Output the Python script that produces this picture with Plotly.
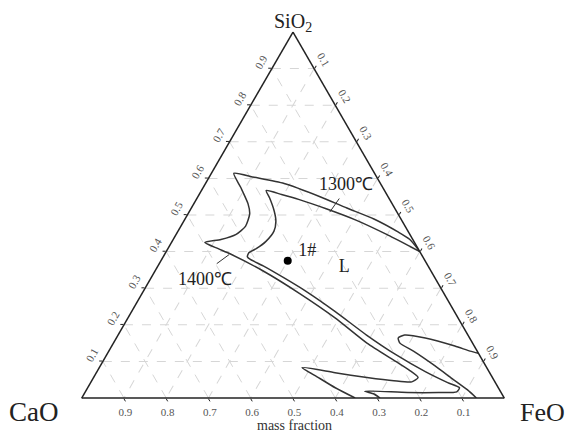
import plotly.graph_objects as go

# Ternary data: SiO2 (a, top), CaO (b, bottom-left), FeO (c, bottom-right); mass fractions, sum = 1
# CaO is completed by plotly from sum=1.

# 1400 °C liquidus isotherm
iso1400_sio2 = [0.400, 0.433, 0.453, 0.489, 0.519, 0.550, 0.586, 0.603, 0.614,
                0.575, 0.531, 0.503, 0.469, 0.447, 0.433, 0.425,
                0.408, 0.394, 0.347, 0.286, 0.219, 0.150, 0.100, 0.075, 0.056,
                0.044, 0.047, 0.056, 0.069, 0.083,
                0.058, 0.028, 0.000]
iso1400_feo = [0.600, 0.560, 0.523, 0.447, 0.368, 0.289, 0.186, 0.107, 0.053,
               0.089, 0.128, 0.146, 0.153, 0.142, 0.113, 0.079,
               0.119, 0.154, 0.256, 0.372, 0.490, 0.600, 0.693, 0.739, 0.768,
               0.759, 0.715, 0.647, 0.565, 0.480,
               0.528, 0.586, 0.647]

# 1300 °C liquidus isotherm, main branch
iso1300a_sio2 = [0.400, 0.414, 0.447, 0.486, 0.517, 0.542, 0.556, 0.567,
                 0.547, 0.511, 0.483, 0.456, 0.428, 0.408, 0.397, 0.386,
                 0.378, 0.361, 0.328, 0.292, 0.236, 0.172, 0.119, 0.072, 0.042, 0.028,
                 0.017, 0.015, 0.015, 0.019,
                 0.011, 0.000]
iso1300a_feo = [0.600, 0.570, 0.498, 0.406, 0.320, 0.244, 0.195, 0.153,
                0.171, 0.200, 0.218, 0.227, 0.222, 0.209, 0.197, 0.199,
                0.211, 0.249, 0.315, 0.384, 0.482, 0.588, 0.683, 0.777, 0.845, 0.880,
                0.879, 0.837, 0.763, 0.660,
                0.686, 0.706]

# 1300 °C liquidus isotherm, FeO-side branch
iso1300b_sio2 = [0.000, 0.022, 0.053, 0.089, 0.128, 0.150, 0.164, 0.172, 0.164, 0.142, 0.128, 0.122]
iso1300b_feo = [0.934, 0.902, 0.850, 0.790, 0.721, 0.678, 0.667, 0.678, 0.731, 0.812, 0.855, 0.878]

# Sample point 1#
sample_sio2 = [0.375]
sample_feo = [0.300]
sample_name = ["1#"]

# Labels
label_text = ["1300℃", "1400℃", "1#", "L"]
label_sio2 = [0.581, 0.322, 0.400, 0.356]
label_feo = [0.335, 0.131, 0.334, 0.443]

# Leader lines
leader1300_sio2 = [0.545, 0.508]
leader1300_feo = [0.337, 0.333]
leader1400_sio2 = [0.367, 0.392]
leader1400_feo = [0.136, 0.153]

tick_vals = [0.1, 0.2, 0.3, 0.4, 0.5, 0.6, 0.7, 0.8, 0.9]
tick_text = ["0.1", "0.2", "0.3", "0.4", "0.5", "0.6", "0.7", "0.8", "0.9"]

W, H = 574, 437
OFF = 8  # default page (body) margin in the browser
SERIF = "Liberation Serif"
LINE = "#333333"


def px(x):
    return (x - OFF) / W


def py(y):
    return 1 - (y - OFF) / H


fig = go.Figure()


def iso(a, c, name):
    fig.add_trace(go.Scatterternary(
        a=a, c=c, mode="lines", name=name, showlegend=False,
        line=dict(color=LINE, width=1.5, shape="spline", smoothing=0.6),
        hoverinfo="skip"))


iso(iso1400_sio2, iso1400_feo, "1400℃")
iso(iso1300a_sio2, iso1300a_feo, "1300℃")
iso(iso1300b_sio2, iso1300b_feo, "1300℃")

for a, c in [(leader1300_sio2, leader1300_feo), (leader1400_sio2, leader1400_feo)]:
    fig.add_trace(go.Scatterternary(a=a, c=c, mode="lines", showlegend=False,
                                    line=dict(color=LINE, width=1), hoverinfo="skip"))

fig.add_trace(go.Scatterternary(
    a=sample_sio2, c=sample_feo, mode="markers", text=sample_name, showlegend=False,
    marker=dict(color="black", size=8)))

fig.add_trace(go.Scatterternary(
    a=label_sio2, c=label_feo, text=label_text, mode="text", showlegend=False,
    textfont=dict(family=SERIF, size=18, color="#222222"), hoverinfo="skip"))

axis_common = dict(
    title=dict(text=""),
    tickvals=tick_vals, ticktext=tick_text,
    ticks="outside", ticklen=3, tickcolor="#222", tickwidth=1,
    linecolor="#222", linewidth=1.5,
    showgrid=True, gridcolor="#d6d6d6", gridwidth=1, griddash="dash",
    tickfont=dict(family=SERIF, size=11, color="#555"),
)

# triangle on screen: base at y=398 px, apex at y=32 px, centred at x=293 px
y0 = py(398)
y1 = py(32)
xc = px(293)

fig.update_layout(
    width=W, height=H,
    margin=dict(l=0, r=0, t=0, b=0),
    paper_bgcolor="white",
    ternary=dict(
        sum=1,
        bgcolor="white",
        domain=dict(x=[xc - 0.42, xc + 0.42], y=[y0, y1]),
        aaxis=dict(axis_common, tickangle=-60),
        baxis=dict(axis_common),
        caxis=dict(axis_common, tickangle=60),
    ),
    annotations=[
        dict(text="SiO<sub>2</sub>", x=px(293), y=1, xref="paper", yref="paper",
             xanchor="center", yanchor="top",
             showarrow=False, font=dict(family=SERIF, size=20, color="#222")),
        dict(text="CaO", x=px(34), y=py(412), xref="paper", yref="paper",
             xanchor="center", yanchor="middle",
             showarrow=False, font=dict(family=SERIF, size=27, color="#222")),
        dict(text="FeO", x=px(542), y=py(412), xref="paper", yref="paper",
             xanchor="center", yanchor="middle",
             showarrow=False, font=dict(family=SERIF, size=26, color="#222")),
        dict(text="mass fraction", x=px(294), y=py(425), xref="paper", yref="paper",
             xanchor="center", yanchor="middle",
             showarrow=False, font=dict(family=SERIF, size=14, color="#333")),
    ],
)

fig.write_html("out.html")
